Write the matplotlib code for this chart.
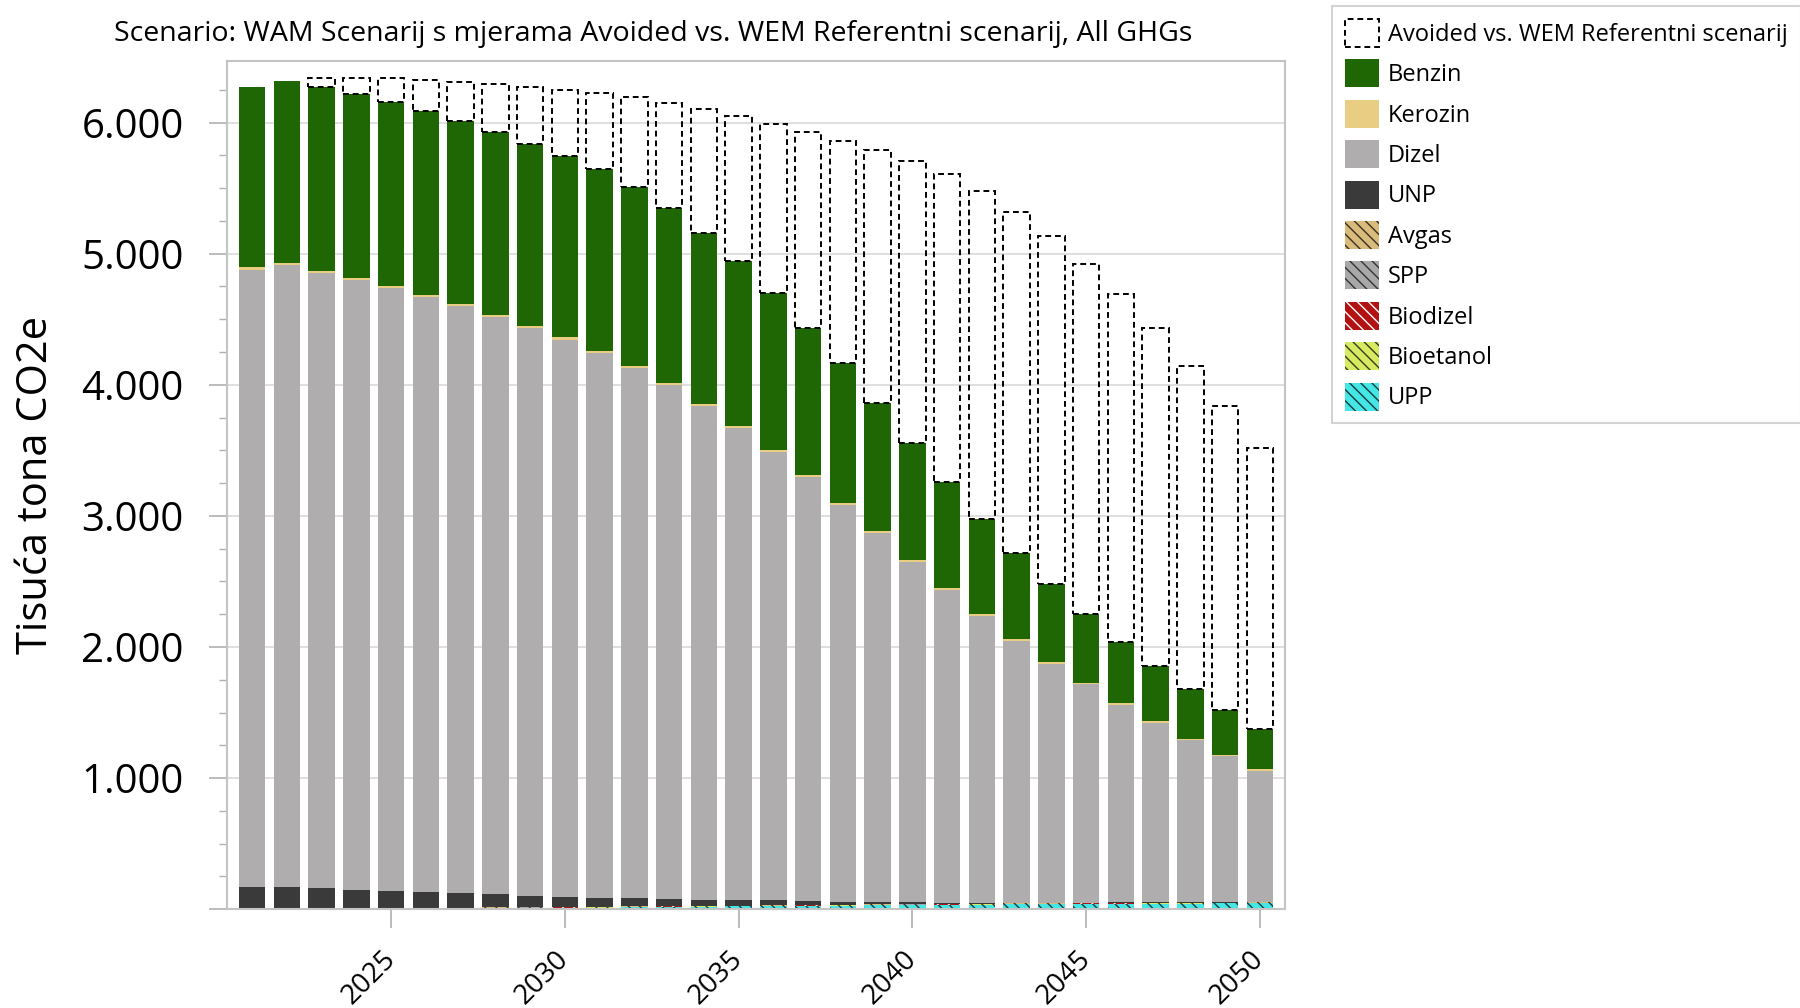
import matplotlib
matplotlib.use("Agg")
import matplotlib.pyplot as plt
from matplotlib.patches import Patch
from matplotlib.ticker import FuncFormatter, MultipleLocator
import numpy as np

plt.rcParams['font.family'] = ['Open Sans', 'DejaVu Sans']
plt.rcParams['hatch.linewidth'] = 1.0

years = list(range(2021, 2051))

upp = [1, 1, 2, 2, 3, 4, 5, 7, 9, 11, 13, 15, 17, 19, 21, 23, 25, 27, 29, 31,
       33, 35, 37, 38, 40, 41, 42, 43, 44, 45]
bioetanol = [2] * 30
biodizel = [2] * 30
spp = [1] * 30
avgas = [2] * 30
unp = [165, 160, 152, 137, 128, 119, 111, 103, 88, 78, 69, 60, 56, 48, 43, 37, 30, 24, 19, 14,
       10, 8, 6, 5, 4, 4, 3, 3, 3, 3]
dizel = [4704, 4744, 4690, 4653, 4600, 4538, 4476, 4403, 4328, 4249, 4152, 4045, 3916, 3768,
         3601, 3424, 3235, 3027, 2815, 2597, 2387, 2186, 1998, 1824, 1664, 1506, 1369, 1235,
         1111, 1001]
kerozin = [18, 18, 18, 17, 17, 17, 16, 16, 16, 16, 15, 15, 15, 15, 14, 14, 14, 14, 14, 13,
           13, 13, 13, 13, 12, 12, 12, 12, 12, 12]
benzin = [1374, 1390, 1405, 1402, 1400, 1403, 1397, 1390, 1389, 1387, 1388, 1364, 1340, 1300,
          1256, 1198, 1126, 1065, 976, 891, 809, 727, 656, 591, 526, 471, 420, 376, 345, 307]
avoided = [0, 0, 64, 120, 183, 237, 298, 368, 437, 503, 579, 689, 799, 945, 1109, 1290, 1495,
           1696, 1932, 2157, 2348, 2502, 2604, 2658, 2672, 2652, 2577, 2464, 2318, 2142]

title = "Scenario: WAM Scenarij s mjerama Avoided vs. WEM Referentni scenarij, All GHGs"
ylabel = "Tisuća tona CO2e"

# (label, values, facecolor, hatch, hatchcolor)
layers = [
    ("UPP", upp, "#44e6e6", "\\\\\\", "#1a3a3a"),
    ("Bioetanol", bioetanol, "#d6ea62", "\\\\\\", "#3a3a1a"),
    ("Biodizel", biodizel, "#b31212", "\\\\\\", "#ffffff"),
    ("SPP", spp, "#a8a8a8", "\\\\\\", "#333333"),
    ("Avgas", avgas, "#d9bb7c", "\\\\\\", "#3a3020"),
    ("UNP", unp, "#3b3a3b", None, None),
    ("Dizel", dizel, "#b0adae", None, None),
    ("Kerozin", kerozin, "#e8cd82", None, None),
    ("Benzin", benzin, "#1f6604", None, None),
]

fig = plt.figure(figsize=(18, 10.08), dpi=100)
ax = fig.add_axes([0.126, 0.098, 0.588, 0.8415])

x = np.array(years)
w = 0.76
bottom = np.zeros(len(years))
for label, vals, fc, hatch, hc in layers:
    v = np.array(vals, dtype=float)
    if hatch:
        ax.bar(x, v, w, bottom=bottom, color=fc, edgecolor=hc, linewidth=0, hatch=hatch, zorder=2)
    else:
        ax.bar(x, v, w, bottom=bottom, color=fc, linewidth=0, zorder=2)
    bottom += v

av = np.array(avoided, dtype=float)
mask = av > 0
ax.bar(x[mask], av[mask], w, bottom=bottom[mask], facecolor='none', edgecolor='black',
       linewidth=1.4, linestyle=(0, (3, 2)), zorder=3)

ax.set_xlim(2020.27, 2050.73)
ax.set_ylim(0, 6470)
ax.yaxis.set_major_locator(MultipleLocator(1000))
ax.yaxis.set_minor_locator(MultipleLocator(250))
ax.yaxis.set_major_formatter(FuncFormatter(lambda v, p: "" if v == 0 else f"{int(v):,}".replace(",", ".")))
xt = [2025, 2030, 2035, 2040, 2045, 2050]
ax.set_xticks(xt)
ax.set_xticklabels([str(t) for t in xt], rotation=45,
                   ha='right', va='center', rotation_mode='anchor')

ax.grid(axis='y', which='major', color='#d9d9d9', linewidth=1.2, zorder=0)
ax.set_axisbelow(True)
for s in ax.spines.values():
    s.set_color('#c4c4c4')
    s.set_linewidth(1.5)

ax.tick_params(axis='y', which='major', length=13, color='#b0b0b0', width=1.2, labelsize=29, pad=18)
ax.tick_params(axis='y', which='minor', length=6, color='#b0b0b0', width=1.0)
ax.tick_params(axis='x', which='major', length=14, color='#b0b0b0', width=1.2, labelsize=20, pad=19)

ax.set_ylabel(ylabel, fontsize=30)
ax.yaxis.set_label_coords(-0.160, 0.5)

fig.text(0.363, 0.966, title, fontsize=20.5, ha='center', va='center')

handles = [Patch(facecolor='none', edgecolor='black', linestyle=(0, (3, 2)), linewidth=1.4,
                 label="Avoided vs. WEM Referentni scenarij")]
for label, vals, fc, hatch, hc in reversed(layers):
    if hatch:
        handles.append(Patch(facecolor=fc, edgecolor=hc, linewidth=0, hatch=hatch, label=label))
    else:
        handles.append(Patch(facecolor=fc, linewidth=0, label=label))

leg = fig.legend(handles=handles, loc='upper left', bbox_to_anchor=(0.74, 0.994),
                 fontsize=17, frameon=True, fancybox=False, edgecolor='#c8c8c8',
                 handlelength=1.44, handleheight=1.44, handletextpad=0.38,
                 labelspacing=0.53, borderpad=0.55, borderaxespad=0)
leg.get_frame().set_linewidth(1.5)

fig.savefig("out.png", dpi=100)
